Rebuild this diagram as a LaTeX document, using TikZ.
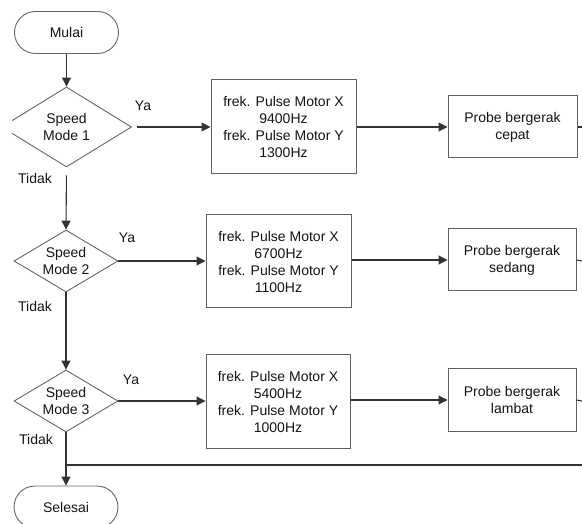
\documentclass[tikz,border=0pt]{standalone}
\usepackage{fontspec}
\setmainfont{Liberation Sans}
\usetikzlibrary{shapes.geometric,arrows.meta}
\begin{document}
\begin{tikzpicture}[x=1pt,y=-1pt,
  every node/.style={font=\fontsize{14}{17}\selectfont, text=black!92},
  conn/.style={draw=black!80, line width=1.1pt},
  arr/.style={conn, -{Triangle[length=9pt,width=9pt]}},
  term/.style={draw=black!60, line width=0.9pt, rectangle, rounded corners=21pt,
    minimum width=104pt, minimum height=42pt, inner sep=0pt},
  dec/.style={draw=black!60, line width=0.9pt, diamond, inner sep=0pt,
    align=center},
  procbox/.style={draw=black!62, line width=1pt, rectangle, inner sep=0pt,
    align=center},
  lbl/.style={inner sep=1pt}]
\clip (0,0) rectangle (582,524);
\fill[white] (0,0) rectangle (582,524);

% terminals
\node[term] (mulai) at (66.5,32.5) {Mulai};
\node[term] (sel) at (66,507) {Selesai};

% decisions
\begin{scope}
  \clip (12,80) rectangle (200,180);
  \node[dec, shape aspect=1.625, minimum width=130pt, minimum height=80pt] (d1) at (66.5,127) {Speed\\Mode 1};
\end{scope}
\node[dec, shape aspect=1.68, minimum width=104pt, minimum height=62pt] (d2) at (66,261) {Speed\\Mode 2};
\node[dec, shape aspect=1.68, minimum width=104pt, minimum height=62pt] (d3) at (66,401) {Speed\\Mode 3};

% frequency boxes
\node[procbox, minimum width=145pt, minimum height=94pt] (b1) at (283.5,127)
  {frek. Pulse Motor X\\9400Hz\\frek. Pulse Motor Y\\1300Hz};
\node[procbox, minimum width=145pt, minimum height=93pt] (b2) at (278.5,261.5)
  {frek. Pulse Motor X\\6700Hz\\frek. Pulse Motor Y\\1100Hz};
\node[procbox, minimum width=144pt, minimum height=93pt] (b3) at (278,401.5)
  {frek. Pulse Motor X\\5400Hz\\frek. Pulse Motor Y\\1000Hz};

% probe boxes
\node[procbox, minimum width=129pt, minimum height=62pt] (p1) at (512.5,127)
  {Probe bergerak\\cepat};
\node[procbox, minimum width=128pt, minimum height=62pt] (p2) at (512,260)
  {Probe bergerak\\sedang};
\node[procbox, minimum width=128pt, minimum height=62pt] (p3) at (512,400)
  {Probe bergerak\\lambat};

% labels
\node[lbl] (ya1) at (143,106) {Ya};
\node[lbl] (ya2) at (127,238) {Ya};
\node[lbl] (ya3) at (131,380) {Ya};
\node[lbl] (t1) at (35,178) {Tidak};
\node[lbl] (t2) at (35,306) {Tidak};
\node[lbl] (t3) at (36,439) {Tidak};

% free ends
\coordinate (e1) at (582,127);
\coordinate (e2) at (582,261);
\coordinate (e3) at (582,401);
\coordinate (jn) at (66,465);
\coordinate (e4) at (582,465);

% connectors
\draw[arr] (mulai.south) -- (d1.north);
\draw[arr, shorten <=5pt] (d1.east) -- (b1.west);
\draw[arr, shorten <=8pt] (d1.south) -- (d2.north);
\draw[arr] (b1.east) -- (p1.west);
\draw[conn] (p1.east) -- (e1);

\draw[arr] (d2.east) -- (b2.west |- d2.east);
\draw[arr] (d2.south) -- (d3.north);
\draw[arr] (b2.east |- p2.west) -- (p2.west);
\draw[conn] (p2.east) -- (e2);

\draw[arr] (d3.east) -- (b3.west |- d3.east);
\draw[arr] (d3.south) -- (sel.north);
\draw[arr] (b3.east |- p3.west) -- (p3.west);
\draw[conn] (p3.east) -- (e3);
\draw[conn] (jn) -- (e4);
\end{tikzpicture}
\end{document}
